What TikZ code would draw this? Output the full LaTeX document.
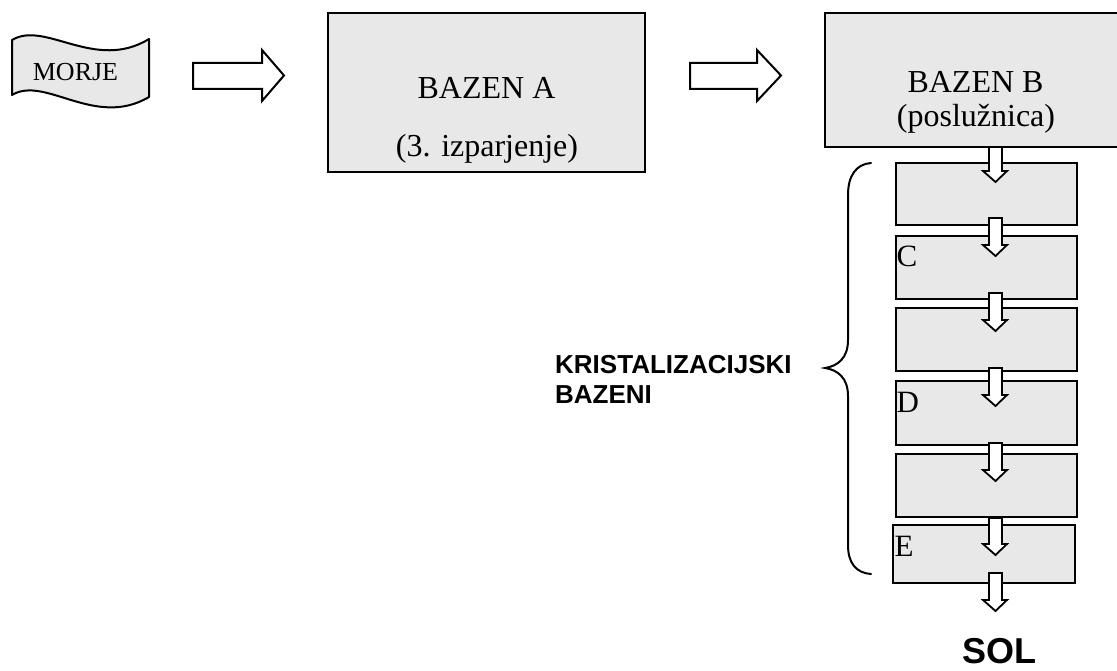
\documentclass[tikz,border=0pt]{standalone}
\usepackage{fontspec}
\setmainfont{Liberation Serif}
\setsansfont{Liberation Sans}
\tikzset{
  x=1pt, y=-1pt,
  poolbox/.style={draw=black, line width=2pt, fill=boxgray, inner sep=0pt, outer sep=0pt},
  blockarrow/.style={draw=black, line width=2pt, fill=white, line join=miter},
  lbl/.style={inner sep=0pt, anchor=base, font=\fontsize{32}{34}\selectfont},
  cornerlbl/.style={inner sep=0pt, anchor=base west, font=\fontsize{31}{34}\selectfont},
  boldlbl/.style={inner sep=0pt, anchor=base west, font=\sffamily\bfseries\fontsize{26}{30}\selectfont},
  bracestyle/.style={draw=black, line width=2pt, line cap=round}
}
\definecolor{boxgray}{HTML}{E8E8E8}
\newcommand{\smallarrowdown}[2]{%
  \draw[blockarrow, line width=1.8pt] (989,#1) -- (1002,#1) -- (1002,{#2-11}) -- (1007,{#2-11}) -- (995.5,#2) -- (983,{#2-11}) -- (989,{#2-11}) -- cycle;}
\newcommand{\bigarrowright}[3]{%
  \draw[blockarrow] (#1,63) -- (#2,63) -- (#2,50) -- (#3,75.5) -- (#2,101) -- (#2,89) -- (#1,89) -- cycle;}
\begin{document}
\begin{tikzpicture}
\useasboundingbox (0,0) rectangle (1117,671);
% MORJE wave shape
\draw[line width=2pt, fill=boxgray, line join=round]
  (12,40) .. controls (45,20) and (95,72) .. (149,39)
  -- (149,97) .. controls (95,129) and (45,75) .. (12,95) -- cycle;
\node[lbl, font=\fontsize{26}{28}\selectfont] (morje) at (75.5,81) {MORJE};
% big arrows
\bigarrowright{193}{262}{284}
\bigarrowright{690}{757}{781}
% boxes
\node[poolbox, minimum width=317pt, minimum height=159pt] (A) at (486.5,92.5) {};
\node[poolbox, minimum width=300pt, minimum height=134pt] (B) at (975,80) {};
\node[poolbox, minimum width=181pt, minimum height=62pt] (b1) at (986.5,194) {};
\node[poolbox, minimum width=181pt, minimum height=63pt] (C) at (986.5,267.5) {};
\node[poolbox, minimum width=181pt, minimum height=63pt] (b3) at (986.5,339.5) {};
\node[poolbox, minimum width=181pt, minimum height=64pt] (D) at (986.5,413) {};
\node[poolbox, minimum width=181pt, minimum height=63pt] (b5) at (986.5,485.5) {};
\node[poolbox, minimum width=182pt, minimum height=58pt] (E) at (984,554) {};
% texts
\node[lbl] (a1) at (486.5,99) {BAZEN A};
\node[lbl] (a2) at (487,157) {(3. izparjenje)};
\node[lbl] (bb1) at (975.5,93) {BAZEN B};
\node[lbl] (bb2) at (976,127) {(poslužnica)};
\node[cornerlbl] (cl) at (896.5,266.5) {C};
\node[cornerlbl] (dl) at (896.5,412.5) {D};
\node[cornerlbl] (el) at (894.5,556.5) {E};
% small arrows
\smallarrowdown{147}{182}
\smallarrowdown{218}{256}
\smallarrowdown{293}{331}
\smallarrowdown{368}{406}
\smallarrowdown{443}{481}
\smallarrowdown{518}{555}
\smallarrowdown{573}{611}
% brace
\draw[bracestyle] (871,163) .. controls (856,164) and (848,176) .. (848,195)
  -- (848,340) .. controls (848,358) and (838,366) .. (825,368)
  .. controls (838,370) and (848,378) .. (848,396)
  -- (848,545) .. controls (848,563) and (856,573) .. (871,574);
\node[boldlbl] (k1) at (555,373) {KRISTALIZACIJSKI};
\node[boldlbl] (k2) at (555,403) {BAZENI};
\node[inner sep=0pt, anchor=base, font=\sffamily\bfseries\fontsize{36}{40}\selectfont] (sol) at (999,663) {SOL};
\end{tikzpicture}
\end{document}
